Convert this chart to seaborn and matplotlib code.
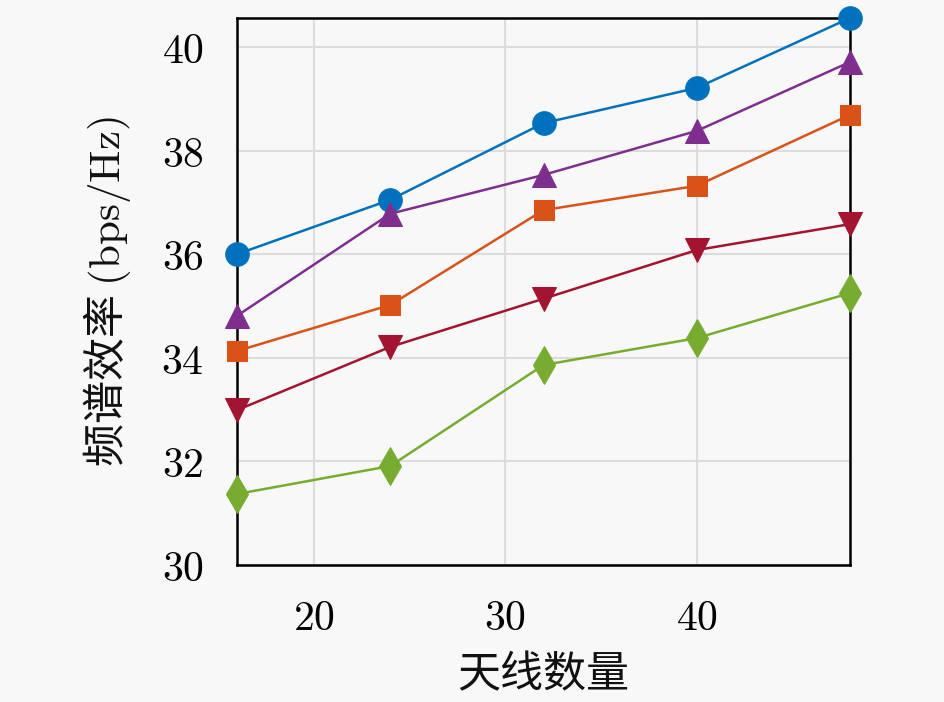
import pandas as pd
import matplotlib.pyplot as plt
import seaborn as sns

# ============================
# DATA
# ============================

antennas = [16, 24, 32, 40, 48]

series_names = ["S1", "S2", "S3", "S4", "S5"]
se_circle = [36.0, 37.05, 38.53, 39.21, 40.56]
se_tri_up = [34.81, 36.78, 37.53, 38.38, 39.71]
se_square = [34.13, 35.02, 36.85, 37.32, 38.69]
se_tri_down = [32.99, 34.21, 35.14, 36.08, 36.58]
se_diamond = [31.37, 31.91, 33.86, 34.38, 35.25]

colors = ["#0072BD", "#7E2F8E", "#D95319", "#A2142F", "#77AC30"]
markers = ["o", "^", "s", "v", "d"]
msizes = [17, 17, 14, 17, 19]

rows = []
for name, vals in zip(series_names, [se_circle, se_tri_up, se_square, se_tri_down, se_diamond]):
    for x, y in zip(antennas, vals):
        rows.append({"x": x, "y": y, "series": name})
df = pd.DataFrame(rows)

# ============================
# STYLE
# ============================

sns.set_theme(style="white")
plt.rcParams["font.family"] = ["Noto Sans CJK SC", "DejaVu Sans"]
plt.rcParams["mathtext.fontset"] = "cm"

bg = "#f8f8f8"
fig = plt.figure(figsize=(9.45, 7.02), dpi=100, facecolor=bg)
ax = fig.add_axes([0.2508, 0.1952, 0.6487, 0.7792])
ax.set_facecolor(bg)

ax.grid(True, color="#dcdcdc", linewidth=1.5)
ax.set_axisbelow(True)

for name, c, m, ms in zip(series_names, colors, markers, msizes):
    sub = df[df["series"] == name]
    sns.lineplot(
        data=sub, x="x", y="y", ax=ax,
        color=c, marker=m, markersize=ms, markeredgecolor=c,
        linewidth=1.8, clip_on=False, zorder=3, legend=False,
    )

ax.set_xlim(16, 48)
ax.set_ylim(30, 40.56)
ax.set_xticks([20, 30, 40])
ax.set_yticks([30, 32, 34, 36, 38, 40])
ax.set_xticklabels([f"${t}$" for t in [20, 30, 40]])
ax.set_yticklabels([f"${t}$" for t in [30, 32, 34, 36, 38, 40]])
ax.tick_params(direction="in", length=5, width=1.2, labelsize=30,
               color="black", labelcolor="black")
ax.tick_params(axis="y", pad=24)
ax.tick_params(axis="x", pad=24)

for s in ax.spines.values():
    s.set_color("black")
    s.set_linewidth(1.8)

ax.set_xlabel("天线数量", fontsize=31, labelpad=10, color="#111111")
ax.set_ylabel(r"频谱效率 $(\mathrm{bps/Hz})$", fontsize=31, labelpad=20, color="#111111")

plt.savefig("out.png", dpi=100, facecolor=bg)
plt.close()
